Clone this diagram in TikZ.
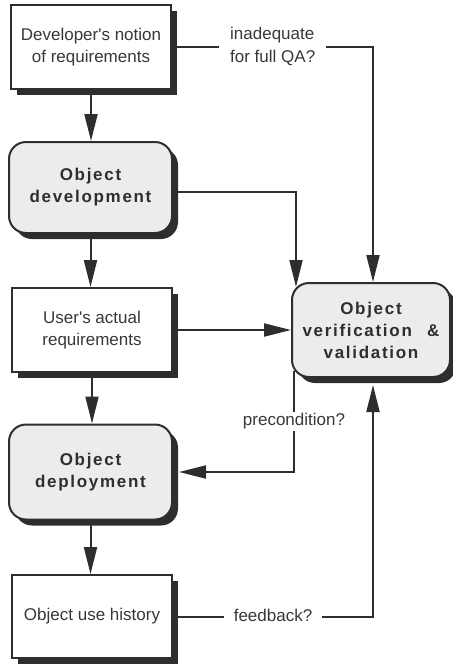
\documentclass[tikz,border=0pt]{standalone}
\usepackage{fontspec}
\setmainfont{Liberation Sans}
\newfontfamily\plainap{Liberation Sans}
\newcommand{\ap}{{\plainap'}}
\usetikzlibrary{arrows.meta,shadows,calc,backgrounds}
\definecolor{ink}{HTML}{2E2E2E}
\definecolor{txt}{HTML}{383838}
\definecolor{boxgray}{HTML}{ECECEC}
\begin{document}
\begin{tikzpicture}[x=1pt,y=-1pt,
  box/.style={draw=ink, line width=2pt, fill=white, minimum width=160pt, minimum height=84pt,
    align=center, text=txt, font=\fontsize{17}{22}\selectfont,
    drop shadow={shadow xshift=6pt, shadow yshift=-6pt, fill=ink, opacity=1}},
  rbox/.style={box, rounded corners=17pt, fill=boxgray, text=ink,
    font=\fontsize{17}{22}\selectfont\bfseries\addfontfeature{LetterSpace=10}},
  arr/.style={draw=ink, line width=2pt, -{Triangle[length=27pt,width=13pt]}},
  lbl/.style={fill=white, text=txt, font=\fontsize{17}{22}\selectfont,
    inner xsep=10pt, inner ysep=2pt}
]
\useasboundingbox (0,0) rectangle (453,665);

\node[box] (b1) at (91,47) {Developer\ap s notion\\of requirements};
\node[rbox, minimum height=91pt, minimum width=163pt] (b2) at (90.5,187.5) {Object\\development};
\node[box] (b3) at (92,330) {User\ap s actual\\requirements};
\node[rbox, minimum height=95pt, minimum width=163pt] (b4) at (90.5,472) {Object\\deployment};
\node[box, minimum height=83pt] (b5) at (92,616.5) {Object use history};
\node[rbox, minimum width=158pt, minimum height=94pt] (v) at (371,330) {Object\\verification\hspace{0.9em}\&\\validation};

\coordinate (vtopR) at ($(v.north)+(2,0)$);
\coordinate (vbotR) at ($(v.south)+(2,7)$);
\coordinate (vtopL) at ($(v.north west)+(5,5)$);
\coordinate (vbotL) at ($(v.south west)+(3,-7)$);
\coordinate (b2out) at ($(b2.east)+(0,4)$);
\coordinate (b4in) at ($(b4.east)+(6,0)$);

\begin{scope}[on background layer]
\draw[arr] (b1.south) -- (b1.south |- b2.north);
\draw[arr] (b2.south) -- (b2.south |- b3.north);
\draw[arr] (b3.south) -- (b3.south |- b4.north);
\draw[arr] (b4.south) -- (b4.south |- b5.north);

\draw[arr] (b1.east) -- (b1.east -| vtopR) -- (vtopR);
\node[lbl, anchor=base west, inner xsep=11pt, inner ysep=5pt] (qa) at (219,62) {for full QA?};
\node[lbl, anchor=base west, fill=none, inner xsep=0pt] (inad) at (230,39) {inadequate};
\draw[arr] (b2out) -| (vtopL);
\draw[arr] (b3.east) -- (v.west);
\draw[arr] (vbotL) -- node[lbl]{precondition?} (vbotL |- b4in) -- (b4in);
\draw[arr] (b5.east) -- node[lbl, yshift=1pt]{feedback?} (b5.east -| vbotR) -- (vbotR);
\end{scope}
\end{tikzpicture}
\end{document}
